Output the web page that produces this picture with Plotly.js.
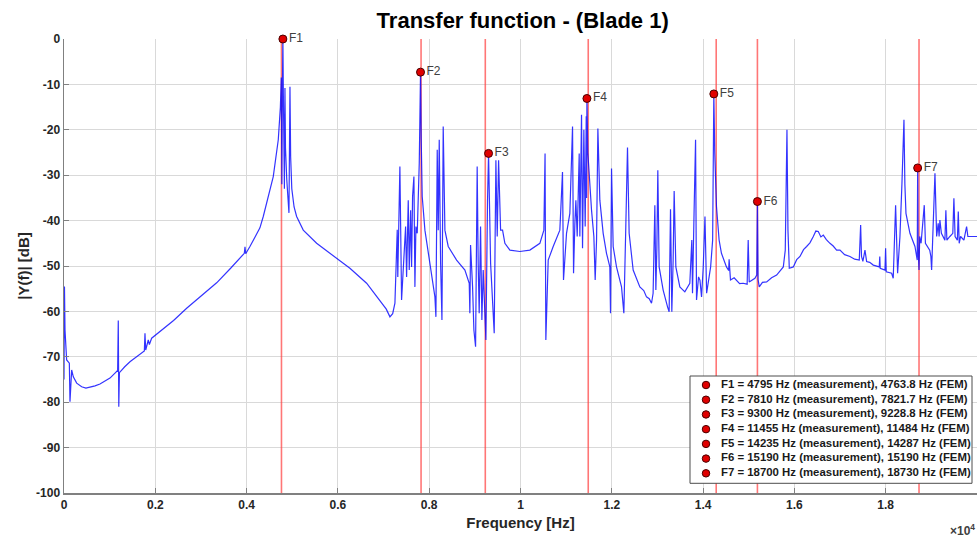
<!DOCTYPE html>
<html>
<head>
<meta charset="utf-8">
<script src="https://cdn.plot.ly/plotly-3.0.1.min.js"></script>
<style>html,body{margin:0;padding:0;background:#fff;}#chart{width:977px;height:538px;}</style>
</head>
<body>
<div id="chart"></div>
<script>
// ---- Data ----
const freqHz = [0, 10, 22, 58, 117, 131, 168, 204, 278, 387, 480, 569, 680, 788, 900, 1007, 1117, 1175, 1189, 1200, 1214, 1264, 1330, 1445, 1560, 1702, 1760, 1774, 1790, 1846, 1870, 1920, 2102, 2400, 2687, 3000, 3344, 3650, 3950, 3965, 3980, 4073, 4292,
  4365, 4584, 4694, 4740, 4760, 4772, 4782, 4795, 4805, 4818, 4828, 4840, 4852, 4880, 4915, 4928, 4950, 4965, 4990, 5040, 5096, 5241, 5534, 6007, 6263, 6629, 6920, 7060, 7140, 7200, 7249,
  7300, 7312, 7358, 7395, 7446, 7483, 7505, 7541, 7563, 7593, 7614, 7636, 7665, 7687, 7709, 7738, 7782, 7798, 7810, 7825, 7847, 7906, 7979, 8053, 8125, 8147, 8176, 8198, 8220, 8250, 8279, 8307, 8344, 8417, 8600, 8782, 8877, 8891, 8906, 8950, 8979, 9016, 9051, 9073, 9095, 9125, 9154, 9183, 9220, 9242, 9278, 9300, 9345, 9388, 9424, 9461, 9490, 9520, 9564, 9607, 9658, 9768, 9986, 10205, 10424, 10512, 10538, 10555, 10607, 10716, 10862,
  10920, 10942, 11008, 11081, 11140, 11162, 11191, 11213, 11242, 11286, 11300, 11337, 11359, 11388, 11417, 11440, 11448, 11455, 11475, 11505, 11556, 11607, 11636, 11666, 11695, 11738, 11811, 11884, 11957, 11972, 11994, 12030, 12103, 12213, 12264, 12307, 12344, 12380, 12468, 12614, 12700, 12760, 12820, 12870, 12905, 12943, 12965, 12987, 13008, 13037, 13125, 13221, 13256, 13286, 13315, 13344, 13366, 13403, 13490, 13600, 13709, 13753, 13768, 13804, 13835, 13856, 13900, 13931, 13966, 14003, 14041, 14077, 14165, 14209, 14222, 14235, 14255, 14293, 14351, 14402, 14512, 14560, 14570, 14585, 14600, 14680, 14731, 14800, 14877, 14965, 14988, 15010, 15135, 15175, 15190, 15205, 15230, 15300, 15392, 15500, 15611, 15757, 15800, 15837, 15859, 15888, 15976, 16050, 16122, 16200, 16268, 16340, 16414, 16470, 16523, 16580, 16633, 16700, 16779, 16850, 16925,
  16998, 17100, 17217, 17320, 17421, 17451, 17470, 17500, 17546, 17582, 17650, 17728, 17859, 17870, 17880, 17984, 17998, 18012, 18130, 18165, 18217, 18261, 18312, 18356, 18385, 18400, 18420, 18444, 18531, 18641, 18691, 18700, 18710, 18730, 18745, 18775, 18845, 18870, 18964, 18990, 19006, 19079, 19116, 19150, 19170, 19187, 19220, 19297, 19318, 19340, 19406, 19470, 19494, 19520, 19570, 19590, 19610, 19640, 19713, 19772, 19800, 20000];
const magDb = [-75, -54.5, -64.1, -70.7, -71.4, -79.9, -72.9, -74.4, -75.8, -76.6, -76.9, -76.7, -76.4, -76, -75.4, -74.7, -73.6, -73, -62, -81, -73.5, -72.9, -72.2, -71.1, -70.2, -69.2, -68.7, -64.8, -68.5, -66.3, -67.3, -65.9, -64.5, -62, -59.3, -56.7, -53.7, -50.5, -47.2, -45.8, -47.3, -45.7, -41.6,
  -39.1, -30.3, -22.2, -15, -8.5, -32, -14, 0, -12, -28, -33, -10.8, -24, -31, -36, -38.3, -10.5, -26, -33, -37, -39.1, -42.1, -45, -48.7, -50.5, -53.8, -57.5, -59.5, -61.2, -60.5, -58.2,
  -42, -52.4, -28.1, -57.5, -49.4, -41.3, -52.4, -35.5, -50.9, -37.7, -50.2, -34.7, -30.3, -54.6, -41.3, -42.8, -27.4, -20, -7.3, -22, -34.7, -42.1, -47.2, -51.6, -56.8, -61.2, -24.4, -42.1, -22.2, -49.4, -61.9, -19.3, -42.1, -45.7, -48.7, -50.9, -53.8, -60.4, -45.4, -54.6, -64.1, -67.8, -28.1, -49.4, -60.4, -41.3, -61.9, -50.9, -60.4, -66.3, -35.5, -25.2, -49.4, -58.2, -64.8, -26.7, -43.5, -26.7, -42.1, -42.1, -45, -46.5, -46.8, -46.5, -45, -42.1, -25.2, -66.3, -48.7, -45.7, -42.1,
  -29.3, -53.1, -42.8, -38.4, -19.3, -51.6, -40.6, -35.5, -43.5, -25.2, -43.5, -16.7, -46.1, -20, -41.3, -17, -35, -13.1, -25, -30.3, -37.7, -43.5, -53.1, -44.3, -19.7, -35.5, -42.8, -47.2, -50.2, -60.4, -28.5, -45.7, -50.2, -54.6, -60.4, -41.3, -23.9, -42.8, -50.9, -54.6, -55.4, -56.8, -57.2, -58.2, -56, -36.6, -55.3, -46.1, -28.9, -50.2, -55.3, -59, -60.1, -37.5, -60.1, -48.7, -33.5, -50.2, -54.6, -55.7, -53.8, -44.3, -56, -37.3, -22.2, -57.5, -52.4, -53.1, -56.8, -50.2, -39.1, -56, -50.2, -44.3, -31.1, -12.1, -25, -36.9, -44.3, -47.2, -50.2, -51, -48.5, -52, -53.1, -52.6, -53.1, -53.9, -53.8, -54, -44.3, -53.5, -52.7, -52, -35.8, -53, -54.6, -53.6, -53.5, -52.6, -52, -50.2, -46.5, -20, -42.1, -50.5, -50.2, -48.6, -47.9, -46.4, -45.7, -44.9, -43.5, -42.3, -42.4, -43.6, -43.2, -44.2, -45, -45.6, -46.5,
  -46.5, -47.5, -47.9, -48.5, -48.7, -41, -47.9, -49, -46.5, -49, -49.2, -49.8, -50.2, -47.9, -50.5, -50.9, -46.1, -51.3, -51.6, -52.7, -36.6, -51.6, -43.5, -31.8, -21.9, -17.8, -32, -38.4, -42.8, -45.7, -48.7, -28.4, -46, -50.9, -43.5, -45, -36.6, -45, -46.5, -47.9, -50.9, -29.6, -43.5, -40.6, -43.5, -39.9, -42.8, -44.3, -37.7, -44.3, -43.5, -42.8, -35.1, -43.5, -44.3, -38, -45, -43.5, -44.3, -41.3, -43.5, -43.5];

const modeNames = ['F1', 'F2', 'F3', 'F4', 'F5', 'F6', 'F7'];
const measHz = [4795, 7810, 9300, 11455, 14235, 15190, 18700];
const femHz = [4763.8, 7821.7, 9228.8, 11484, 14287, 15190, 18730];
const peakDb = [0, -7.3, -25.2, -13.1, -12.1, -35.8, -28.4];

const xTickVals = [0, 2000, 4000, 6000, 8000, 10000, 12000, 14000, 16000, 18000, 20000];
const xTickText = ['0', '0.2', '0.4', '0.6', '0.8', '1', '1.2', '1.4', '1.6', '1.8', '2'];
const yTickVals = [-100, -90, -80, -70, -60, -50, -40, -30, -20, -10, 0];
const yTickText = ['-100', '-90', '-80', '-70', '-60', '-50', '-40', '-30', '-20', '-10', '0'];

// ---- Traces ----
const redX = [], redY = [];
femHz.forEach(f => { redX.push(f, f, null); redY.push(-100, 0, null); });

const traces = [
  {x: redX, y: redY, mode: 'lines', line: {color: 'rgba(255,60,60,0.7)', width: 1.6}, hoverinfo: 'skip'},
  {x: freqHz, y: magDb, mode: 'lines', line: {color: 'rgba(0,0,255,0.8)', width: 1.2}},
  {x: measHz, y: peakDb, mode: 'markers+text', text: modeNames, textposition: 'middle right',
   textfont: {size: 12, color: '#404040', family: 'Liberation Sans, Arial, sans-serif'},
   marker: {size: 8, color: '#e00000', line: {color: '#4a0000', width: 1}}, cliponaxis: false}
];

// legend: drawn on overlay axes whose units are the page pixels of the plot area
const legTop = 376, legBottom = 483.3, legLeft = 690, legRight = 972;
const rowY0 = 385, rowStep = 14.72;
const rowYs = modeNames.map((_, i) => rowY0 + i * rowStep);
const legendText = modeNames.map((n, i) => `${n} = ${measHz[i]} Hz (measurement), ${femHz[i]} Hz (FEM)`);
traces.push({x: [legLeft, legRight, legRight, legLeft, legLeft], y: [legTop, legTop, legBottom, legBottom, legTop],
  mode: 'lines', fill: 'toself', fillcolor: '#ffffff', line: {color: '#4d4d4d', width: 1}, xaxis: 'x2', yaxis: 'y2', hoverinfo: 'skip'});
traces.push({x: rowYs.map(() => 706), y: rowYs, mode: 'markers', marker: {size: 7.5, color: '#e00000', line: {color: '#4a0000', width: 1}},
  xaxis: 'x2', yaxis: 'y2', cliponaxis: false});
traces.push({x: rowYs.map(() => 721), y: rowYs, mode: 'text', text: legendText, textposition: 'middle right',
  textfont: {size: 11.4, color: '#1a1a1a', family: 'Liberation Sans, Arial, sans-serif', weight: 'bold'},
  xaxis: 'x2', yaxis: 'y2', cliponaxis: false});

const axisCommon = {
  showline: true, linecolor: '#808080', linewidth: 1.5, ticks: 'inside', ticklen: 5, tickcolor: '#808080', tickwidth: 1,
  showgrid: true, gridcolor: '#d9d9d9', gridwidth: 1, zeroline: false,
  tickfont: {size: 12, color: '#262626', family: 'Liberation Sans, Arial, sans-serif', weight: 'bold'}
};

const layout = {
  width: 977, height: 538,
  margin: {l: 64, r: 0, t: 39, b: 45},
  paper_bgcolor: '#ffffff', plot_bgcolor: '#ffffff',
  showlegend: false,
  font: {family: 'Liberation Sans, Arial, sans-serif', color: '#262626'},
  title: {text: '<b>Transfer function - (Blade 1)</b>', font: {size: 22, color: '#000000'}, x: 0.535, xanchor: 'center', y: 0.963, yanchor: 'middle'},
  xaxis: Object.assign({}, axisCommon, {range: [0, 20000], tickvals: xTickVals, ticktext: xTickText,
    title: {text: '<b>Frequency [Hz]</b>', font: {size: 15, color: '#262626'}, standoff: 6}}),
  yaxis: Object.assign({}, axisCommon, {range: [-100, 0], tickvals: yTickVals, ticktext: yTickText,
    title: {text: '<b>|Y(f)| [dB]</b>', font: {size: 15, color: '#262626'}, standoff: 3}}),
  xaxis2: {overlaying: 'x', anchor: 'y2', range: [64, 977], visible: false, showgrid: false, zeroline: false, fixedrange: true},
  yaxis2: {overlaying: 'y', anchor: 'x2', range: [493, 39], visible: false, showgrid: false, zeroline: false, fixedrange: true},
  annotations: [{text: '<b>×10<sup>4</sup></b>', xref: 'paper', yref: 'paper', x: 0.968, y: -0.082, xanchor: 'left', yanchor: 'middle',
    showarrow: false, font: {size: 12, color: '#404040'}}]
};

Plotly.newPlot('chart', traces, layout, {displayModeBar: false, staticPlot: true});
</script>
</body>
</html>
